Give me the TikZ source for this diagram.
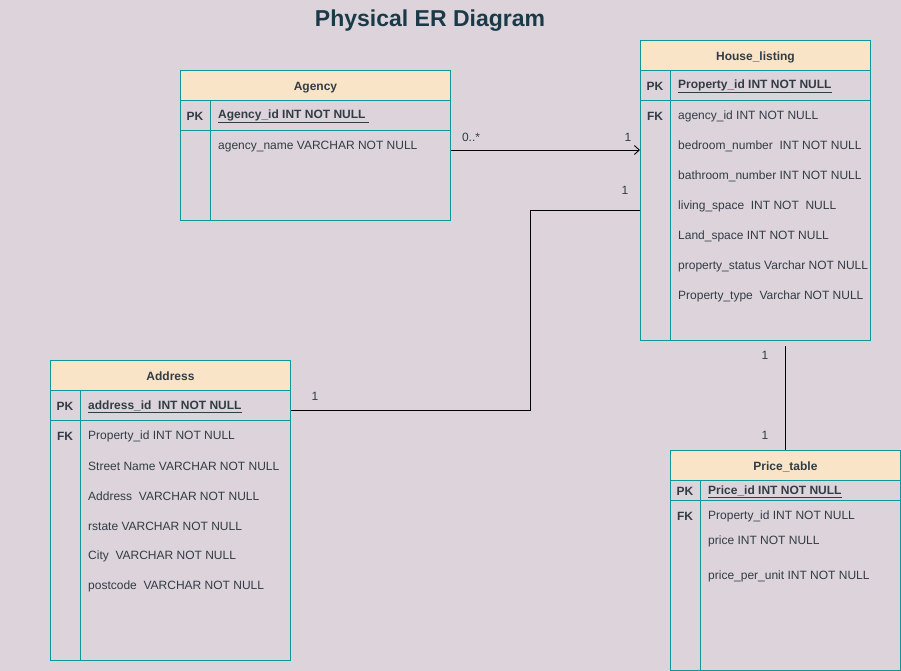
\documentclass[tikz,border=0pt]{standalone}
\usepackage{fontspec}
\setmainfont{Liberation Sans}
\usetikzlibrary{arrows.meta,calc}
\definecolor{bgc}{RGB}{220,211,219}
\definecolor{tealc}{RGB}{16,150,150}
\definecolor{hdrc}{RGB}{250,228,200}
\definecolor{txtc}{RGB}{50,60,68}
\definecolor{titlec}{RGB}{26,58,72}
\newcommand{\fs}{\fontsize{12}{14}\selectfont}
\tikzset{
  tblbox/.style={draw=tealc, line width=0.9pt, anchor=north west, inner sep=0pt},
  hdr/.style={draw=tealc, fill=hdrc, line width=0.9pt, anchor=north west, inner sep=0pt, font=\fs\bfseries, text=txtc, text depth=0pt, text height=10pt},
  sep/.style={draw=tealc, line width=0.9pt},
  keylbl/.style={font=\fs\bfseries, text=txtc, inner sep=0pt, yshift=-1.5pt},
  fld/.style={anchor=west, font=\fs, text=txtc, inner sep=0pt, yshift=-1.5pt},
  card/.style={font=\fs, text=txtc, inner sep=0pt, yshift=-1pt},
  conn/.style={draw=black, line width=0.9pt},
}
\begin{document}
\begin{tikzpicture}[x=1pt,y=-1pt]
\useasboundingbox[fill=bgc] (0,0) rectangle (901,671);
\node[font=\fontsize{23}{27}\selectfont\bfseries, text=titlec] (title) at (430,21) {Physical ER Diagram};

% Agency
\node[tblbox, minimum width=270, minimum height=150] (agency) at (180,70) {};
\node[hdr, minimum width=270, minimum height=30] (agencyh) at (180,70) {Agency};
\draw[sep] (180,130) -- (450,130);
\draw[sep] (210,100) -- (210,220);
\node[keylbl] (agpk) at (195,115) {PK};
\node[fld, font=\fs\bfseries] (agid) at (218,115) {\underline{Agency\_id INT NOT NULL\ }};
\node[fld] (agname) at (218,145) {agency\_name VARCHAR NOT NULL};

% House_listing
\node[tblbox, minimum width=230, minimum height=300] (house) at (640,40) {};
\node[hdr, minimum width=230, minimum height=30] (househ) at (640,40) {House\_listing};
\draw[sep] (640,100) -- (870,100);
\draw[sep] (670,70) -- (670,340);
\node[keylbl] (hpk) at (655,85) {PK};
\node[keylbl] (hfk) at (655,115) {FK};
\node[fld, font=\fs\bfseries] (hid) at (678,85) {\underline{Property\_id INT NOT NULL}};
\node[fld] (h1) at (678,115) {agency\_id INT NOT NULL};
\node[fld] (h2) at (678,145) {bedroom\_number\ \ INT NOT NULL};
\node[fld] (h3) at (678,175) {bathroom\_number INT NOT NULL};
\node[fld] (h4) at (678,205) {living\_space\ \ INT NOT\ \ NULL};
\node[fld] (h5) at (678,235) {Land\_space INT NOT NULL};
\node[fld] (h6) at (678,265) {property\_status Varchar NOT NULL};
\node[fld] (h7) at (678,295) {Property\_type\ \ Varchar NOT NULL};

% Address
\node[tblbox, minimum width=240, minimum height=300] (addr) at (50,360) {};
\node[hdr, minimum width=240, minimum height=30] (addrh) at (50,360) {Address};
\draw[sep] (50,420) -- (290,420);
\draw[sep] (80,390) -- (80,660);
\node[keylbl] (apk) at (65,405) {PK};
\node[keylbl] (afk) at (65,435) {FK};
\node[fld, font=\fs\bfseries] (aid) at (88,405) {\underline{address\_id\ \ INT NOT NULL}};
\node[fld] (a1) at (88,435) {Property\_id INT NOT NULL};
\node[fld] (a2) at (88,465) {Street Name VARCHAR NOT NULL};
\node[fld] (a3) at (88,495) {Address\ \ VARCHAR NOT NULL};
\node[fld] (a4) at (88,525) {rstate VARCHAR NOT NULL};
\node[fld] (a5) at (88,555) {City\ \ VARCHAR NOT NULL};
\node[fld] (a6) at (88,585) {postcode\ \ VARCHAR NOT NULL};

% Price_table
\node[tblbox, minimum width=230, minimum height=220] (price) at (670,450) {};
\node[hdr, minimum width=230, minimum height=30] (priceh) at (670,450) {Price\_table};
\draw[sep] (670,500) -- (900,500);
\draw[sep] (700,480) -- (700,670);
\node[keylbl] (ppk) at (685,490) {PK};
\node[keylbl] (pfk) at (685,515) {FK};
\node[fld, font=\fs\bfseries] (pid) at (708,490) {\underline{Price\_id INT NOT NULL}};
\node[fld] (p1) at (708,515) {Property\_id INT NOT NULL};
\node[fld] (p2) at (708,540) {price INT NOT NULL};
\node[fld] (p3) at (708,575) {price\_per\_unit INT NOT NULL};

% connectors
\draw[conn, -{Straight Barb[length=5pt,width=9pt,line width=0.9pt]}] ($(agency.north east)+(0,80)$) -- ($(house.north west)+(0,110)$);
\node[card] (c1) at (471,136) {0..*};
\node[card] (c2) at (628,136) {1};

\coordinate (bend1) at (530,210);
\coordinate (bend2) at (530,410);
\draw[conn] ($(house.north west)+(0,170)$) -- (bend1) -- (bend2) -- ($(addr.north east)+(0,50)$);
\node[card] (c3) at (625,189) {1};
\node[card] (c4) at (315,395) {1};

\draw[conn] ($(house.south west)+(145,5)$) -- ($(price.north west)+(115,0)$);
\node[card] (c5) at (765,354) {1};
\node[card] (c6) at (765,434) {1};
\end{tikzpicture}
\end{document}
